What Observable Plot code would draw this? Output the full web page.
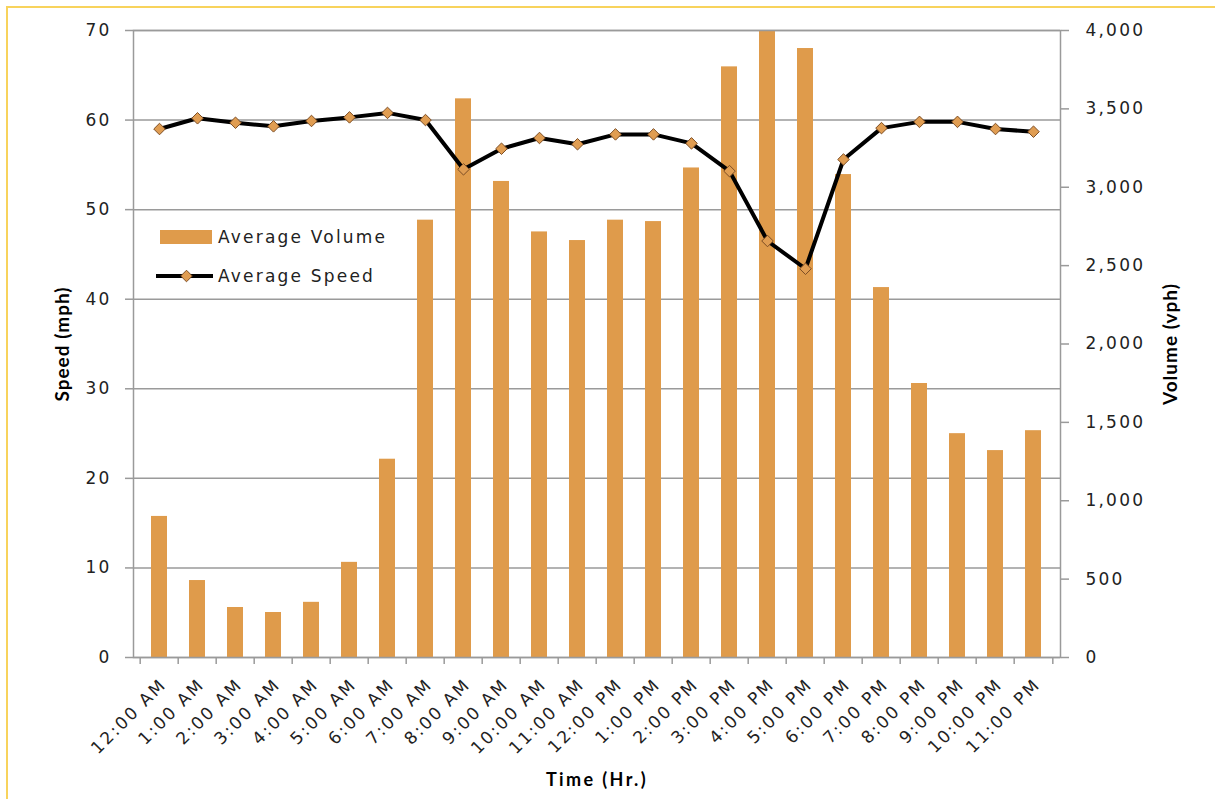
<!DOCTYPE html>
<html>
<head>
<meta charset="utf-8">
<script src="https://cdn.jsdelivr.net/npm/d3@7"></script>
<script src="https://cdn.jsdelivr.net/npm/@observablehq/plot@0.6"></script>
<style>
html, body { margin: 0; padding: 0; background: #fff; }
#wrap { position: relative; width: 1215px; height: 799px; overflow: hidden; }
#border { position: absolute; left: 6px; top: 6px; width: 1230px; height: 820px; border-left: 2px solid #f8d35c; border-top: 2px solid #f8d35c; box-sizing: border-box; }
#chart { position: absolute; left: 0; top: 0; }
#legend { position: absolute; left: 0; top: 0; pointer-events: none; }
g[font-family="DejaVu Sans"] { letter-spacing: 2.2px; }
g[font-family="Lato"] { letter-spacing: 1px; }
g[font-family="Lato, sans-serif"] { letter-spacing: 2.4px; }
</style>
</head>
<body>
<div id="wrap">
  <div id="border"></div>
  <div id="chart"></div>
  <svg id="legend" width="1215" height="799"></svg>
</div>
<script>
// ---- data ----
const hours = ["12:00 AM","1:00 AM","2:00 AM","3:00 AM","4:00 AM","5:00 AM","6:00 AM","7:00 AM","8:00 AM","9:00 AM","10:00 AM","11:00 AM",
               "12:00 PM","1:00 PM","2:00 PM","3:00 PM","4:00 PM","5:00 PM","6:00 PM","7:00 PM","8:00 PM","9:00 PM","10:00 PM","11:00 PM"];
const speed  = [59.0, 60.2, 59.7, 59.3, 59.9, 60.3, 60.8, 60.0, 54.5, 56.8, 58.0, 57.3,
                58.4, 58.4, 57.4, 54.3, 46.5, 43.4, 55.6, 59.1, 59.8, 59.8, 59.0, 58.7];
const volume = [900, 491, 319, 287, 352, 607, 1265, 2790, 3564, 3037, 2715, 2660,
                2790, 2781, 3123, 3768, 4000, 3885, 3081, 2360, 1748, 1428, 1320, 1447];
const speedTicks  = [0, 10, 20, 30, 40, 50, 60, 70];
const volumeTicks = [0, 500, 1000, 1500, 2000, 2500, 3000, 3500, 4000];
const speedMax = 70, volumeMax = 4000;
const seriesNames = ["Average Volume", "Average Speed"];

const toSpeedUnits = v => v * speedMax / volumeMax;
const data = hours.map((h, i) => ({hour: h, speed: speed[i], volume: volume[i], vol: toSpeedUnits(volume[i])}));

// ---- layout ----
const W = 1215, H = 799, mL = 133, mR = 155, mT = 30, mB = 142;
const step = (W - mL - mR) / hours.length;
const barColor = "#df9b4b";
const gridColor = "#9a9a9a";
const tickFont = "DejaVu Sans";
const fs = 17;

const chart = Plot.plot({
  width: W, height: H,
  marginLeft: mL, marginRight: mR, marginTop: mT, marginBottom: mB,
  style: {fontFamily: tickFont, fontSize: fs + "px", color: "#222", background: "transparent", overflow: "visible"},
  x: {domain: hours, paddingInner: 0.575, paddingOuter: 0.2875, axis: null},
  y: {domain: [0, speedMax], axis: null},
  marks: [
    Plot.gridY(speedTicks, {stroke: gridColor, strokeOpacity: 1, strokeWidth: 1.5}),
    Plot.barY(data, {x: "hour", y: "vol", fill: barColor}),
    Plot.frame({stroke: gridColor, strokeWidth: 1.5}),
    Plot.axisY(speedTicks, {anchor: "left", tickSize: 8, tickPadding: 14, stroke: gridColor, strokeWidth: 1.5,
      fontFamily: tickFont, fontSize: fs, fill: "#222", label: null}),
    Plot.axisY(volumeTicks.map(toSpeedUnits), {anchor: "right", tickSize: 8, tickPadding: 17, stroke: gridColor, strokeWidth: 1.5,
      tickFormat: d => d3.format(",")(Math.round(d * volumeMax / speedMax)),
      fontFamily: tickFont, fontSize: fs, fill: "#222", label: null}),
    Plot.axisX({ticks: hours, text: null, tickSize: 7, dx: -step / 2, stroke: gridColor, strokeWidth: 1.5, label: null}),
    Plot.axisX({ticks: [hours[hours.length - 1]], text: null, tickSize: 7, dx: step / 2, stroke: gridColor, strokeWidth: 1.5, label: null}),
    Plot.text(hours, {x: d => d, text: d => d, frameAnchor: "bottom", rotate: -45, textAnchor: "end", lineAnchor: "bottom",
      dx: 8, dy: 28, fontFamily: tickFont, fontSize: fs, fill: "#222"}),
    Plot.line(data, {x: "hour", y: "speed", stroke: "#000", strokeWidth: 4}),
    Plot.dot(data, {x: "hour", y: "speed", symbol: "diamond2", r: 5.2, fill: "#e09d52", stroke: "#7d4e25", strokeWidth: 1}),
    Plot.text(["Speed (mph)"], {text: d => d, frameAnchor: "left", dx: -71, rotate: -90, textAnchor: "middle", lineAnchor: "middle",
      fontFamily: "Lato", fontWeight: "bold", fontSize: 19, fill: "#000"}),
    Plot.text(["Volume (vph)"], {text: d => d, frameAnchor: "right", dx: 110, rotate: -90, textAnchor: "middle", lineAnchor: "middle",
      fontFamily: "Lato", fontWeight: "bold", fontSize: 19, fill: "#000"}),
    Plot.text(["Time (Hr.)"], {text: d => d, frameAnchor: "bottom", dy: 128, textAnchor: "middle", lineAnchor: "bottom",
      fontFamily: "Lato, sans-serif", fontWeight: "bold", fontSize: 18, fill: "#000"})
  ]
});
document.getElementById("chart").appendChild(chart);

// ---- legend (inside plot area, top-left) ----
const lg = d3.select("#legend");
lg.append("rect").attr("x", 160).attr("y", 230).attr("width", 52).attr("height", 14).attr("fill", barColor);
lg.append("line").attr("x1", 156).attr("x2", 213).attr("y1", 276).attr("y2", 276).attr("stroke", "#000").attr("stroke-width", 4);
lg.append("path").attr("d", d3.symbol(d3.symbolDiamond2, Math.PI * 5.2 * 5.2)()).attr("transform", "translate(186.5,276)")
  .attr("fill", "#e09d52").attr("stroke", "#7d4e25").attr("stroke-width", 1);
const lt = lg.append("g").attr("font-family", "DejaVu Sans").attr("font-size", fs).attr("fill", "#222");
lt.append("text").attr("x", 218).attr("y", 243).text(seriesNames[0]);
lt.append("text").attr("x", 218).attr("y", 282).text(seriesNames[1]);
</script>
</body>
</html>
